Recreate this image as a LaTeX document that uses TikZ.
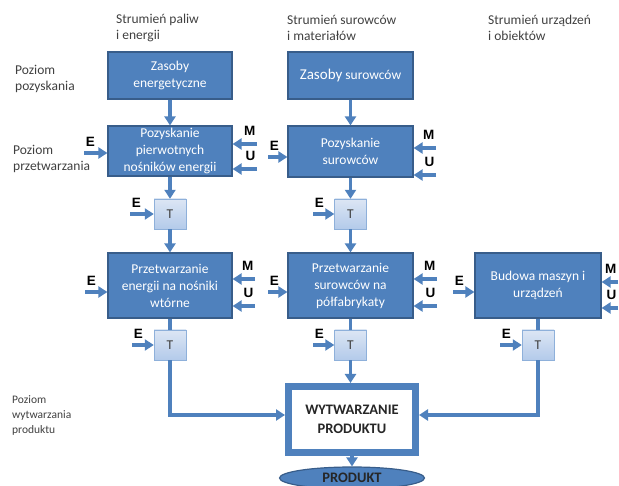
\documentclass[tikz,border=0pt]{standalone}
\usepackage{fontspec}
\setmainfont{Carlito}
\newfontfamily\arialfont{Liberation Sans}
\usetikzlibrary{positioning,shapes.geometric,arrows.meta}

\definecolor{boxblue}{HTML}{4F81BD}
\definecolor{boxedge}{HTML}{385D8A}
\definecolor{tlight}{HTML}{DCE6F4}
\definecolor{tdark}{HTML}{B3CAEA}
\definecolor{tedge}{HTML}{8EB0DA}
\definecolor{labgray}{HTML}{404040}

\tikzset{
  proc/.style={draw=boxedge, fill=boxblue, line width=1.2pt, text=white,
    align=center, inner sep=2pt, font=\fontsize{13.5}{17}\selectfont},
  tbox/.style={draw=tedge, top color=tlight, bottom color=tdark,
    minimum width=32pt, minimum height=30pt, text=labgray,
    font=\fontsize{13.5}{15}\selectfont},
  lvl/.style={anchor=west, align=left, inner sep=0pt, text=labgray,
    font=\fontsize{13.5}{16}\selectfont},
  inlab/.style={inner sep=0pt, font=\arialfont\bfseries\fontsize{13.5}{15}\selectfont},
  elab/.style={inlab, above right=5pt and 0pt},
  mlab/.style={inlab, above left=7pt and 0pt},
  link/.style={draw=boxblue, line width=3.5pt},
  flow/.style={link, -{Triangle[length=9pt,width=11pt]}},
}

\begin{document}
\begin{tikzpicture}[x=1pt, y=-1pt]
\useasboundingbox (0,0) rectangle (619,486);

% captions
\node[lvl] (capfuel) at (116,28) {Strumień paliw\\i energii};
\node[lvl] (capraw) at (287,28) {Strumień surowców\\i materiałów};
\node[lvl] (capdev) at (488,28) {Strumień urządzeń\\i obiektów};
\node[lvl] (lvlget) at (15,79) {Poziom\\pozyskania};
\node[lvl] (lvlproc) at (13,159) {Poziom\\przetwarzania};
\node[lvl, font=\fontsize{11.5}{15}\selectfont] (lvlmake) at (12,415) {Poziom\\wytwarzania\\produktu};

% fuel and energy stream
\node[proc, minimum width=124pt, minimum height=47pt] (zen) at (170,75.5) {Zasoby\\energetyczne};
\node[proc, minimum width=124pt, minimum height=50pt] (pen) at (170,151) {Pozyskanie\\pierwotnych\\nośników energii};
\node[tbox] (t11) at (170,214) {T};
\node[proc, minimum width=124pt, minimum height=65pt] (prz1) at (170,285.5) {Przetwarzanie\\energii na nośniki\\wtórne};
\node[tbox] (t12) at (170,345) {T};

% raw material stream
\node[proc, minimum width=125pt, minimum height=47pt] (zsu) at (350.5,75.5) {{\fontsize{15}{17}\selectfont Zasoby} surowców};
\node[proc, minimum width=125pt, minimum height=51pt] (psu) at (350.5,151.5) {Pozyskanie\\surowców};
\node[tbox] (t21) at (350.5,214) {T};
\node[proc, minimum width=125pt, minimum height=65pt] (prz2) at (350.5,285.5) {Przetwarzanie\\surowców na\\półfabrykaty};
\node[tbox] (t22) at (350.5,345) {T};

% device stream
\node[proc, minimum width=126pt, minimum height=65pt] (bud) at (538,285.5) {Budowa maszyn i\\urządzeń};
\node[tbox] (t32) at (538,345) {T};

% product
\node[draw=boxblue, line width=7pt, fill=white, minimum width=127pt, minimum height=66pt,
  align=center, font=\bfseries\fontsize{14.5}{19}\selectfont, text=black!85] (wyt) at (352,419.5) {WYTWARZANIE\\PRODUKTU};
\node[ellipse, draw=boxedge, fill=boxblue, line width=1.2pt, minimum width=145pt, minimum height=22pt,
  inner sep=0pt, font=\bfseries\fontsize{14.5}{16}\selectfont, text=black!85] (prod) at (352,478) {PRODUKT};

% main flows
\draw[flow] (zen) -- (pen);
\draw[flow] (pen) -- (t11);
\draw[flow] (t11) -- (prz1);
\draw[link] (prz1) -- (t12);
\draw[flow] (t12.south) |- ([yshift=4.5pt]wyt.west);
\draw[flow] (zsu) -- (psu);
\draw[flow] (psu) -- (t21);
\draw[flow] (t21) -- (prz2);
\draw[link] (prz2) -- (t22);
\draw[flow] (t22.south) -- (t22.south |- wyt.north);
\draw[link] (bud) -- (t32);
\draw[flow] (t32.south) |- ([yshift=4.5pt]wyt.east);
\draw[flow] (wyt) -- (prod);

% inputs E, M, U
\coordinate (pen-e) at (84,153);
\coordinate (pen-m) at (257,144);
\coordinate (pen-u) at (257,169);
\draw[flow] (pen-e) node[elab] {E} -- (pen-e -| pen.west);
\draw[flow] (pen-m) node[mlab] {M} -- (pen-m -| pen.east);
\draw[flow] (pen-u) node[mlab] {U} -- (pen-u -| pen.east);
\coordinate (t11-e) at (130,214);
\draw[flow] (t11-e) node[elab] {E} -- (t11);
\coordinate (prz1-e) at (85,292);
\coordinate (prz1-m) at (255,279);
\coordinate (prz1-u) at (255,306);
\draw[flow] (prz1-e) node[elab] {E} -- (prz1-e -| prz1.west);
\draw[flow] (prz1-m) node[mlab] {M} -- (prz1-m -| prz1.east);
\draw[flow] (prz1-u) node[mlab] {U} -- (prz1-u -| prz1.east);
\coordinate (t12-e) at (132,345);
\draw[flow] (t12-e) node[elab] {E} -- (t12);

\coordinate (psu-e) at (268,157);
\coordinate (psu-m) at (436,148);
\coordinate (psu-u) at (436,175);
\draw[flow] (psu-e) node[elab] {E} -- (psu-e -| psu.west);
\draw[flow] (psu-m) node[mlab] {M} -- (psu-m -| psu.east);
\draw[flow] (psu-u) node[mlab] {U} -- (psu-u -| psu.east);
\coordinate (t21-e) at (313,214);
\draw[flow] (t21-e) node[elab] {E} -- (t21);
\coordinate (prz2-e) at (268,292);
\coordinate (prz2-m) at (437,279);
\coordinate (prz2-u) at (437,306);
\draw[flow] (prz2-e) node[elab] {E} -- (prz2-e -| prz2.west);
\draw[flow] (prz2-m) node[mlab] {M} -- (prz2-m -| prz2.east);
\draw[flow] (prz2-u) node[mlab] {U} -- (prz2-u -| prz2.east);
\coordinate (t22-e) at (313,345);
\draw[flow] (t22-e) node[elab] {E} -- (t22);

\coordinate (bud-e) at (453,292);
\coordinate (bud-m) at (618,282);
\coordinate (bud-u) at (618,308);
\draw[flow] (bud-e) node[elab] {E} -- (bud-e -| bud.west);
\draw[flow] (bud-m) node[mlab] {M} -- (bud-m -| bud.east);
\draw[flow] (bud-u) node[mlab] {U} -- (bud-u -| bud.east);
\coordinate (t32-e) at (500,345);
\draw[flow] (t32-e) node[elab] {E} -- (t32);
\end{tikzpicture}
\end{document}
